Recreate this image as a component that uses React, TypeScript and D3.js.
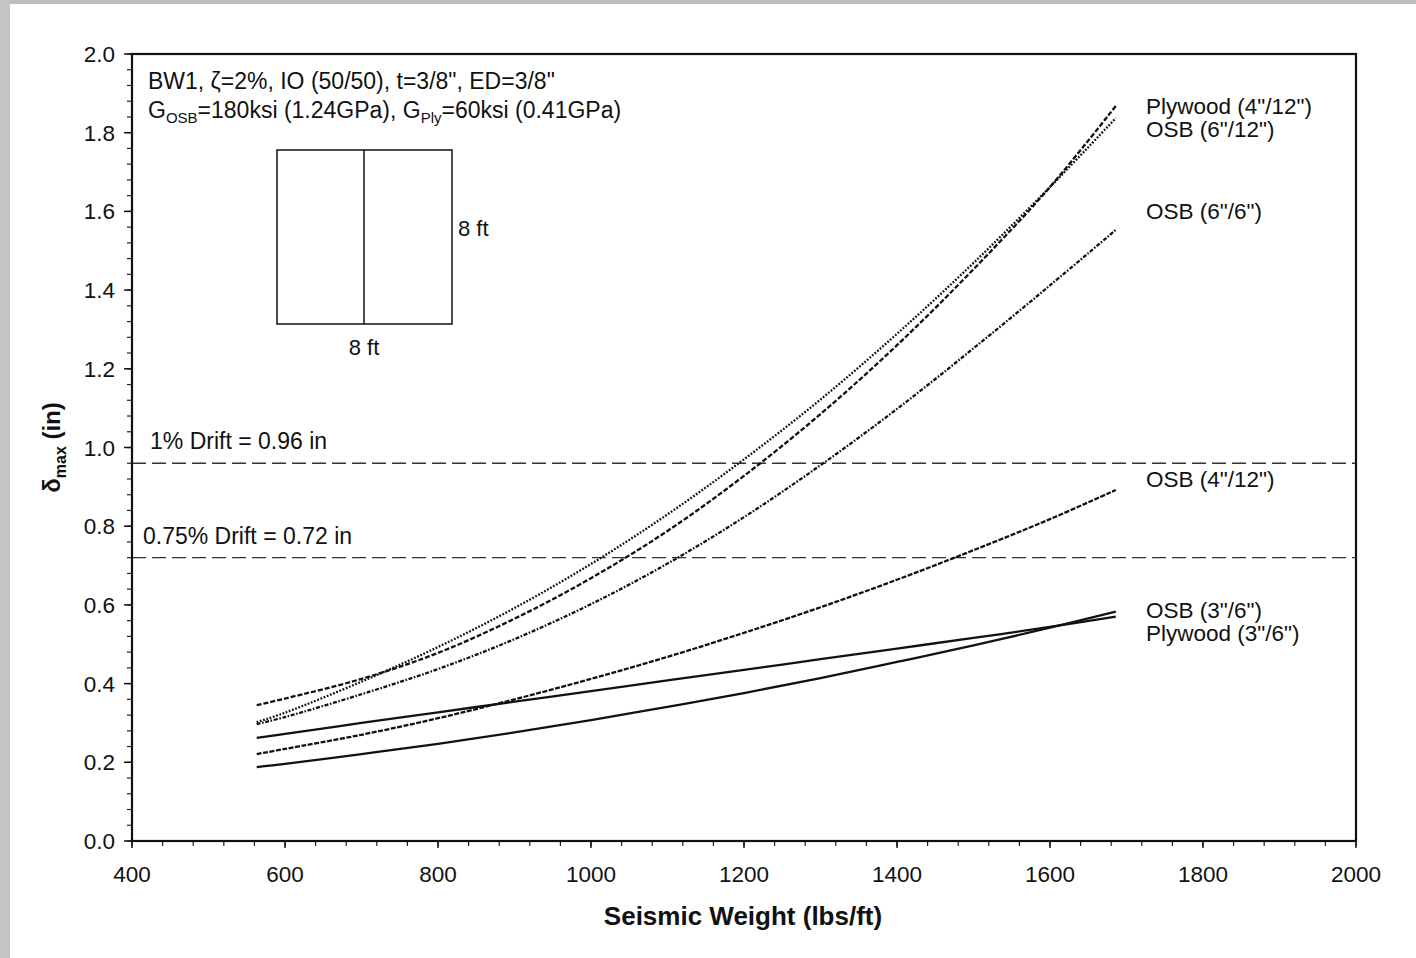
import React from "react";
import * as d3 from "d3";

// ---- data ----
const seismicWeight = [563, 600, 700, 800, 900, 1000, 1100, 1200, 1300, 1400, 1500, 1600, 1686];
const plywood4_12 = [0.345, 0.362, 0.412, 0.478, 0.565, 0.668, 0.788, 0.928, 1.085, 1.26, 1.453, 1.662, 1.868];
const osb6_12 = [0.302, 0.326, 0.405, 0.493, 0.592, 0.704, 0.83, 0.97, 1.122, 1.289, 1.469, 1.662, 1.837];
const osb6_6 = [0.297, 0.315, 0.373, 0.437, 0.513, 0.602, 0.705, 0.823, 0.955, 1.098, 1.252, 1.412, 1.553];
const osb4_12 = [0.221, 0.234, 0.27, 0.312, 0.36, 0.412, 0.468, 0.529, 0.594, 0.664, 0.739, 0.818, 0.892];
const osb3_6 = [0.262, 0.272, 0.3, 0.327, 0.354, 0.381, 0.408, 0.435, 0.462, 0.489, 0.516, 0.544, 0.57];
const plywood3_6 = [0.188, 0.196, 0.221, 0.247, 0.276, 0.307, 0.341, 0.376, 0.414, 0.455, 0.497, 0.542, 0.583];

const seriesNames = ["Plywood (4\"/12\")", "OSB (6\"/12\")", "OSB (6\"/6\")", "OSB (4\"/12\")", "OSB (3\"/6\")", "Plywood (3\"/6\")"];
const seriesValues = [plywood4_12, osb6_12, osb6_6, osb4_12, osb3_6, plywood3_6];
const seriesDash = ["5,2", "1.8,1.6", "4,1.6,1.6,1.6", "5,1.5", "", ""];
const labelY = [1.868, 1.81, 1.6, 0.92, 0.588, 0.528];

const xTicks = [400, 600, 800, 1000, 1200, 1400, 1600, 1800, 2000];
const yTicks = [0, 0.2, 0.4, 0.6, 0.8, 1.0, 1.2, 1.4, 1.6, 1.8, 2.0];
const driftValues = [0.96, 0.72];
const driftLabels = ["1% Drift = 0.96 in", "0.75% Drift = 0.72 in"];

const W = 1416;
const H = 958;
const L = 132, R = 1356, T = 54, B = 841;
const FONT = "'Liberation Sans', Arial, Helvetica, sans-serif";

export default function App() {
  const x = d3.scaleLinear().domain([400, 2000]).range([L, R]);
  const y = d3.scaleLinear().domain([0, 2]).range([B, T]);
  const line = d3
    .line<number>()
    .x((_, i) => x(seismicWeight[i]))
    .y((d) => y(d))
    .curve(d3.curveCatmullRom.alpha(0.5));

  const minorX = d3.range(400, 2000.1, 40);
  const minorY = d3.range(0, 2.0001, 0.04);

  return (
    <div style={{ position: "absolute", left: 0, top: 0 }}>
      <svg width={W} height={H} style={{ display: "block", background: "#fff" }} fontFamily={FONT}>
        <rect x={0} y={0} width={W} height={4} fill="#bdbdbd" />
        <rect x={0} y={0} width={10} height={H} fill="#c4c4c4" />

        {/* minor ticks */}
        {minorX.map((v) => (
          <line key={"mx" + v} x1={x(v)} x2={x(v)} y1={B} y2={B + 5} stroke="#222" strokeWidth={1.2} />
        ))}
        {xTicks.map((v) => (
          <line key={"Mx" + v} x1={x(v)} x2={x(v)} y1={B} y2={B + 7} stroke="#111" strokeWidth={1.5} />
        ))}
        {minorY.map((v) => (
          <line key={"my" + v.toFixed(2)} x1={L - 5} x2={L} y1={y(v)} y2={y(v)} stroke="#222" strokeWidth={1.2} />
        ))}
        {yTicks.map((v) => (
          <line key={"My" + v} x1={L - 8} x2={L} y1={y(v)} y2={y(v)} stroke="#111" strokeWidth={1.5} />
        ))}

        {/* tick labels */}
        {xTicks.map((v) => (
          <text key={"xl" + v} x={x(v)} y={882} textAnchor="middle" fontSize={22.5} fill="#111">
            {v}
          </text>
        ))}
        {yTicks.map((v) => (
          <text key={"yl" + v} x={L - 17} y={y(v) + 8} textAnchor="end" fontSize={22.5} fill="#111">
            {v.toFixed(1)}
          </text>
        ))}

        {/* drift lines */}
        {driftValues.map((v, i) => (
          <g key={"d" + i}>
            <line x1={L} x2={R} y1={y(v)} y2={y(v)} stroke="#333" strokeWidth={1.3} strokeDasharray="14,6" />
            <text x={i === 0 ? 150 : 143} y={y(v) - 14} fontSize={23} fill="#111">
              {driftLabels[i]}
            </text>
          </g>
        ))}

        {/* curves */}
        {seriesValues.map((vals, i) => (
          <path
            key={"s" + i}
            d={line(vals) || ""}
            fill="none"
            stroke="#111"
            strokeWidth={2.3}
            strokeDasharray={seriesDash[i] || undefined}
          />
        ))}

        {/* series labels */}
        {seriesNames.map((n, i) => (
          <text key={"n" + i} x={1146} y={y(labelY[i]) + 8} fontSize={22.5} fill="#111">
            {n}
          </text>
        ))}

        {/* annotation */}
        <text x={148} y={89} fontSize={23} fill="#111">
          BW1, ζ=2%, IO (50/50), t=3/8", ED=3/8"
        </text>
        <text x={148} y={118} fontSize={23} fill="#111">
          G<tspan fontSize={15} dy={5}>OSB</tspan>
          <tspan dy={-5}>=180ksi (1.24GPa), G</tspan>
          <tspan fontSize={15} dy={5}>Ply</tspan>
          <tspan dy={-5}>=60ksi (0.41GPa)</tspan>
        </text>

        {/* inset wall sketch */}
        <rect x={277} y={150} width={175} height={174} fill="none" stroke="#111" strokeWidth={1.5} />
        <line x1={364} x2={364} y1={150} y2={324} stroke="#111" strokeWidth={1.5} />
        <text x={458} y={236} fontSize={22} fill="#111">8 ft</text>
        <text x={364} y={355} fontSize={22} fill="#111" textAnchor="middle">8 ft</text>

        {/* frame */}
        <rect x={L} y={T} width={R - L} height={B - T} fill="none" stroke="#111" strokeWidth={2.2} />

        {/* axis titles */}
        <text x={(L + R) / 2 - 1} y={925} textAnchor="middle" fontSize={26} fontWeight="bold" fill="#111">
          Seismic Weight (lbs/ft)
        </text>
        <text transform={`translate(60, ${y(1.0)}) rotate(-90)`} textAnchor="middle" fontSize={24} fontWeight="bold" fill="#111">
          δ<tspan fontSize={16} dy={6}>max</tspan>
          <tspan dy={-6}> (in)</tspan>
        </text>
      </svg>
    </div>
  );
}
